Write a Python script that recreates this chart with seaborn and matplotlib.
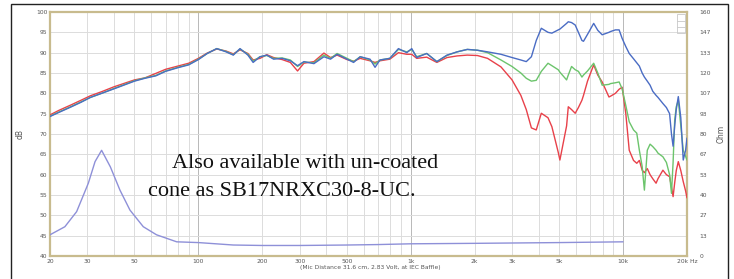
import matplotlib
matplotlib.use("Agg")
import matplotlib.pyplot as plt
import seaborn as sns
import pandas as pd
from matplotlib.patches import Rectangle
from matplotlib.lines import Line2D

# ---------------- data ----------------
freq = [20, 22, 25, 28, 31, 35, 40, 45, 50, 56, 63, 70, 80, 90, 100, 110, 122, 135, 146, 157,
        171, 181, 195, 210, 226, 248, 271, 293, 314, 350, 390, 419, 450, 501, 538, 578, 643,
        679, 716, 797, 875, 958, 1011, 1067, 1189, 1327, 1481, 1654, 1846, 2060,
        2300, 2660, 3000, 3300, 3500, 3700, 3900, 4120, 4430, 4620, 4950, 5040, 5420, 5520,
        5720, 5950, 6160, 6400, 6510, 6800, 7270, 7600, 7970, 8580, 8730, 9200, 9580, 9900,
        10300, 10690, 11200, 11600, 11930, 12300, 12600, 13000, 13400, 13800, 14300, 14600,
        15400, 16000, 16560, 16900, 17200, 17500, 17800, 18200, 18700, 19200, 19700, 20000]

spl_0deg = [74.3, 75.3, 76.6, 77.8, 79.0, 80.0, 81.1, 82.1, 83.0, 83.7, 84.3, 85.4, 86.3, 87.0,
            88.3, 89.8, 91.0, 90.2, 89.4, 91.0, 89.4, 87.6, 89.0, 89.4, 88.4, 88.6, 88.0, 86.8,
            87.8, 87.3, 89.0, 88.4, 89.6, 88.4, 87.6, 89.0, 88.4, 86.4, 88.2, 88.6, 91.0, 90.0,
            91.0, 88.8, 89.8, 87.8, 89.4, 90.2, 90.8, 90.6,
            90.2, 89.6, 88.8, 88.2, 87.8, 89.0, 93.0, 96.0, 95.0, 94.8, 95.6, 95.8, 97.2, 97.6,
            97.4, 96.8, 95.0, 93.0, 92.8, 94.5, 97.2, 95.5, 94.4, 95.0, 95.2, 95.6, 95.6, 93.5,
            91.5, 89.8, 88.5, 87.5, 86.7, 85.0, 84.0, 83.0, 82.0, 80.5, 79.5, 79.0,
            77.5, 76.5, 75.0, 70.0, 67.0, 72.0, 76.0, 79.2, 74.0, 63.6, 66.0, 69.0]

spl_30deg = [74.4, 75.4, 76.7, 77.9, 79.0, 80.0, 81.2, 82.2, 83.1, 83.8, 84.4, 85.5, 86.4, 87.1,
             88.4, 89.8, 91.0, 90.3, 89.5, 90.9, 89.6, 87.9, 89.0, 89.3, 88.6, 88.7, 88.2, 86.6,
             87.7, 87.5, 89.4, 88.6, 89.8, 88.6, 87.8, 89.0, 88.2, 87.2, 88.2, 88.6, 90.8, 90.2,
             90.8, 89.0, 89.8, 87.8, 89.3, 90.2, 90.8, 90.6,
             90.0, 88.2, 86.6, 85.0, 83.7, 83.0, 83.2, 85.4, 87.4, 86.8, 85.8, 85.2, 83.3, 84.5,
             86.6, 85.8, 85.4, 84.0, 84.5, 85.5, 87.4, 85.0, 82.0, 82.2, 82.4, 82.6, 82.8, 81.1,
             77.0, 73.0, 71.0, 70.2, 66.0, 62.0, 56.2, 66.0, 67.5, 66.9, 66.0, 65.3,
             64.4, 63.0, 60.0, 55.4, 63.0, 73.4, 76.7, 78.3, 72.0, 66.0, 64.5, 63.6]

spl_60deg = [74.7, 75.8, 77.1, 78.3, 79.4, 80.4, 81.6, 82.5, 83.3, 83.8, 84.9, 85.9, 86.7, 87.4,
             88.6, 89.9, 90.9, 90.4, 89.7, 90.7, 89.8, 88.2, 88.6, 89.5, 88.8, 88.3, 87.6, 85.5,
             87.4, 87.8, 89.9, 88.8, 89.4, 88.3, 87.9, 88.6, 88.0, 87.6, 88.0, 88.4, 90.0, 89.6,
             89.6, 88.6, 88.9, 87.6, 88.8, 89.2, 89.4, 89.3,
             88.6, 86.5, 83.3, 79.5, 76.0, 71.5, 71.0, 75.1, 74.0, 71.8, 65.5, 63.6, 72.0, 76.7,
             76.0, 75.1, 76.5, 78.3, 79.5, 83.0, 87.0, 84.5, 82.8, 79.1, 79.3, 80.0, 81.0, 81.5,
             75.0, 66.0, 63.5, 62.8, 63.5, 61.1, 60.5, 61.5, 60.0, 59.0, 57.9, 59.0,
             61.1, 60.0, 59.5, 57.0, 54.6, 58.0, 61.0, 63.2, 61.0, 58.3, 56.0, 54.3]

imp_freq = [20, 23.5, 26.7, 30.3, 32.6, 35, 38.5, 42.7, 47.6, 55, 63.5, 79, 100, 146, 200,
            300, 500, 700, 1000, 2000, 5000, 10000]
imp_val = [13.9, 19.2, 29.1, 47.7, 61.9, 69.3, 58.4, 43.2, 30.1, 19.2, 13.9, 9.3, 8.8, 7.2,
           6.9, 6.9, 7.2, 7.5, 8.0, 8.3, 8.8, 9.3]

x_ticks = [20, 30, 50, 100, 200, 300, 500, 1000, 2000, 3000, 5000, 10000, 20000]
x_labels = ["20", "30", "50", "100", "200", "300", "500", "1k", "2k", "3k", "5k", "10k", "20k Hz"]
db_ticks = [40, 45, 50, 55, 60, 65, 70, 75, 80, 85, 90, 95, 100]
ohm_labels = ["0", "13", "27", "40", "53", "67", "80", "93", "107", "120", "133", "147", "160"]

# ---------------- figure ----------------
sns.set_style("white")
plt.rcParams['font.family'] = ['DejaVu Sans']

W, H = 734, 279
fig = plt.figure(figsize=(W / 100, H / 100), dpi=100)
L, R, T, B = 50, 687, 12, 256
ax = fig.add_axes([L / W, 1 - B / H, (R - L) / W, (B - T) / H])
ax.set_xscale("log")
ax.set_xlim(20, 20000)
ax.set_ylim(40, 100)

# grid
minor = [m * d for d in (10, 100, 1000, 10000) for m in range(1, 10)]
minor = [f for f in minor if 20 <= f <= 20000]
for f in minor:
    c = "#b8b8b8" if f in (100, 1000, 10000) else "#dcdcdc"
    ax.axvline(f, color=c, lw=0.7, zorder=0)
for d in db_ticks:
    ax.axhline(d, color="#dcdcdc", lw=0.7, zorder=0)

df = pd.DataFrame({"freq": freq, "b": spl_0deg, "g": spl_30deg, "r": spl_60deg})
sns.lineplot(data=df, x="freq", y="r", ax=ax, color="#e8414a", lw=1.0, zorder=3)
sns.lineplot(data=df, x="freq", y="g", ax=ax, color="#6cc46c", lw=1.0, zorder=4)
sns.lineplot(data=df, x="freq", y="b", ax=ax, color="#4a6cc4", lw=1.0, zorder=5)

tick_font = dict(fontsize=4.3, color="#555555")
ax.set_xticks(x_ticks)
ax.set_xticklabels(x_labels, **tick_font)
ax.xaxis.set_minor_locator(matplotlib.ticker.NullLocator())
ax.set_yticks(db_ticks)
ax.set_yticklabels([str(d) for d in db_ticks], **tick_font)
ax.tick_params(length=0, pad=2)
ax.set_xlabel("")
ax.set_ylabel("dB", fontsize=5.5, color="#555555", labelpad=8)

for s in ax.spines.values():
    s.set_color("#c8bb8e")
    s.set_linewidth(1.6)

ax2 = ax.twinx()
ax2.set_ylim(0, 160)
imp_df = pd.DataFrame({"freq": imp_freq, "z": imp_val})
sns.lineplot(data=imp_df, x="freq", y="z", ax=ax2, color="#8e90d8", lw=1.0)
ax2.set_yticks([i * 160 / 12 for i in range(13)])
ax2.set_yticklabels(ohm_labels, **tick_font)
ax2.tick_params(length=0, pad=9)
ax2.set_ylabel("Ohm", fontsize=5.5, color="#555555", labelpad=4)
ax2.set_xlabel("")
for s in ax2.spines.values():
    s.set_visible(False)

# small legend box in the corner
ax.add_patch(Rectangle((0.985, 0.915), 0.012, 0.075, transform=ax.transAxes,
                       fill=False, ec="#c8c8c8", lw=0.6, zorder=6))
for yy in (0.94, 0.965):
    ax.plot([0.985, 0.997], [yy, yy], transform=ax.transAxes, color="#c8c8c8", lw=0.6, zorder=6)

# caption
fig.text(370 / W, 1 - 268 / H, "(Mic Distance 31.6 cm, 2.83 Volt, at IEC Baffle)",
         fontsize=4.3, color="#555555", ha="center", va="center")

# overlay text
serif = dict(fontsize=16, family=["Liberation Serif", "DejaVu Serif"], color="#111111",
             va="baseline", ha="left")
fig.text(172 / W, 1 - 168 / H, "Also available with un-coated", **serif)
fig.text(148 / W, 1 - 196 / H, "cone as SB17NRXC30-8-UC.", **serif)

# outer frame
fig.add_artist(Rectangle((11 / W, -0.02), (728 - 11) / W, 1.02 - 4 / H,
                         transform=fig.transFigure, fill=False, ec="#222222", lw=1.0))

fig.savefig("out.png", dpi=100)
